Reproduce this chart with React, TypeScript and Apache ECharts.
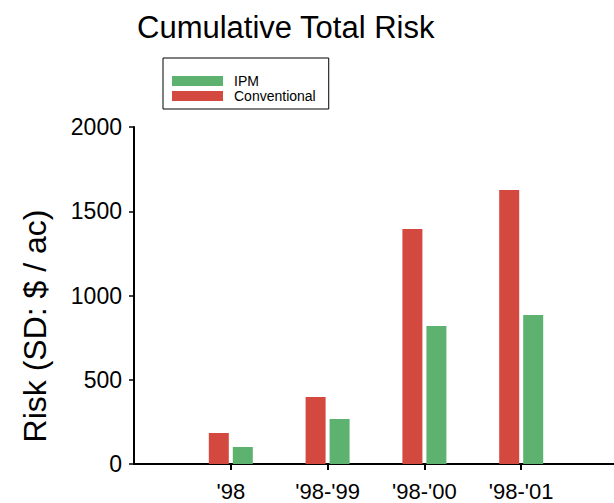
import React, { useEffect, useRef } from "react";
import * as echarts from "echarts";

const categories = ["", "'98", "'98-'99", "'98-'00", "'98-'01", ""];
const conventional = [null, 184, 398, 1395, 1626, null];
const ipm = [null, 101, 267, 819, 884, null];
const yTicks = { min: 0, max: 2000, interval: 500 };

const FONT = "'Liberation Sans', Arial, Helvetica, sans-serif";
const RED = "#D4493F";
const GREEN = "#5DB270";

export default function App() {
  const ref = useRef<HTMLDivElement>(null);
  useEffect(() => {
    const chart = echarts.init(ref.current!, null, { renderer: "svg" });
    chart.setOption({
      animation: false,
      title: {
        text: "Cumulative Total Risk",
        left: 137,
        top: 12,
        padding: 0,
        textStyle: { fontFamily: FONT, fontSize: 31, fontWeight: "normal", color: "#000" },
      },
      legend: {
        orient: "vertical",
        left: 163,
        top: 58,
        data: ["IPM", "Conventional"],
        icon: "rect",
        itemWidth: 51,
        itemHeight: 10,
        itemGap: 1,
        padding: [16, 13, 6, 9],
        borderColor: "#000",
        borderWidth: 1,
        textStyle: { fontFamily: FONT, fontSize: 14, color: "#000", padding: [0, 0, 0, 6] },
      },
      graphic: [
        {
          type: "text",
          x: 35,
          y: 326,
          rotation: Math.PI / 2,
          style: {
            text: "Risk (SD: $ / ac)",
            fontFamily: FONT,
            fontSize: 32,
            fill: "#000",
            align: "center",
            verticalAlign: "middle",
          },
        },
      ],
      grid: { left: 134, width: 484, top: 127, height: 337, outerBoundsMode: "none", containLabel: false },
      xAxis: {
        type: "category",
        data: categories,
        boundaryGap: false,
        axisLine: { lineStyle: { color: "#000", width: 2 } },
        axisTick: {
          interval: (i: number) => i > 0 && i < categories.length - 1,
          length: 6,
          lineStyle: { color: "#000", width: 2 },
        },
        axisLabel: {
          interval: 0,
          margin: 16,
          fontFamily: FONT,
          fontSize: 22,
          lineHeight: 22,
          color: "#000",
        },
        splitLine: { show: false },
      },
      yAxis: {
        type: "value",
        min: yTicks.min,
        max: yTicks.max,
        interval: yTicks.interval,
        axisLine: { show: true, lineStyle: { color: "#000", width: 2 } },
        axisTick: { show: true, length: 5, lineStyle: { color: "#000", width: 1.5 } },
        axisLabel: {
          margin: 12,
          fontFamily: FONT,
          fontSize: 23,
          color: "#000",
          formatter: (v: number) => String(v),
        },
        splitLine: { show: false },
      },
      series: [
        {
          name: "Conventional",
          type: "bar",
          data: conventional,
          barWidth: 20,
          barGap: "20%",
          itemStyle: { color: RED },
        },
        {
          name: "IPM",
          type: "bar",
          data: ipm,
          barWidth: 20,
          barGap: "20%",
          itemStyle: { color: GREEN },
        },
      ],
    });
    return () => chart.dispose();
  }, []);
  return <div ref={ref} style={{ width: 614, height: 503, position: "absolute", left: 0, top: 0 }} />;
}
